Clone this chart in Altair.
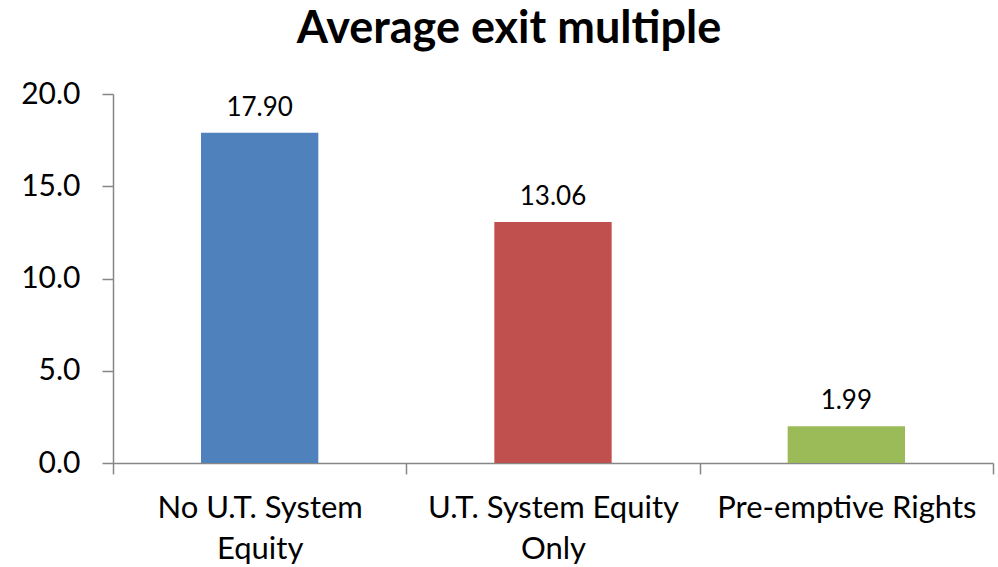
import altair as alt
import pandas as pd

categories = ["No U.T. System\nEquity", "U.T. System Equity\nOnly", "Pre-emptive Rights"]
values = [17.90, 13.06, 1.99]
colors = ["#4F81BD", "#C0504D", "#9BBB59"]
y_ticks = [0, 5, 10, 15, 20]

df = pd.DataFrame({"cat": categories, "val": values, "color": colors})

FONT = "Lato"
GRAY = "#868686"

x = alt.X(
    "cat:N",
    sort=categories,
    title=None,
    scale=alt.Scale(paddingInner=0, paddingOuter=0),
    axis=alt.Axis(
        labelAngle=0,
        labelExpr="split(datum.label, '\\n')",
        labelFont=FONT,
        labelFontSize=31,
        labelColor="#000000",
        labelLineHeight=41,
        labelPadding=19,
        labelBaseline="top",
        tickBand="extent",
        tickSize=11,
        tickColor=GRAY,
        domainColor=GRAY,
        tickWidth=1.5,
        domainWidth=1.5,
        labelLimit=400,
    ),
)

bars = alt.Chart(df).mark_bar(width=alt.RelativeBandSize(0.4)).encode(
    x=x,
    y=alt.Y(
        "val:Q",
        title=None,
        scale=alt.Scale(domain=[0, 20], nice=False),
        axis=alt.Axis(
            values=y_ticks,
            format=".1f",
            labelFont=FONT,
            labelFontSize=30,
            labelColor="#000000",
            labelPadding=22,
            tickSize=11,
            tickColor=GRAY,
            domainColor=GRAY,
            tickWidth=1.5,
            domainWidth=1.5,
            grid=False,
        ),
    ),
    color=alt.Color("color:N", scale=None, legend=None),
)

text = alt.Chart(df).mark_text(
    font=FONT, fontSize=26, dy=-17, baseline="alphabetic", color="#000000"
).encode(
    x=alt.X("cat:N", sort=categories),
    y="val:Q",
    text=alt.Text("val:Q", format=".2f"),
)

chart = (
    alt.layer(bars, text)
    .properties(
        width=880,
        height=369,
        title=alt.TitleParams(
            "Average exit multiple",
            font=FONT,
            fontSize=45,
            fontWeight="bold",
            color="#000000",
            anchor="middle",
            baseline="alphabetic",
            dx=-44,
            dy=12,
            offset=3,
        ),
        autosize=alt.AutoSizeParams(type="none"),
        padding={"left": 113, "top": 94, "right": 5, "bottom": 104},
    )
    .configure_view(stroke=None)
)

chart.save("out.html", embed_options={"renderer": "svg", "actions": False})
